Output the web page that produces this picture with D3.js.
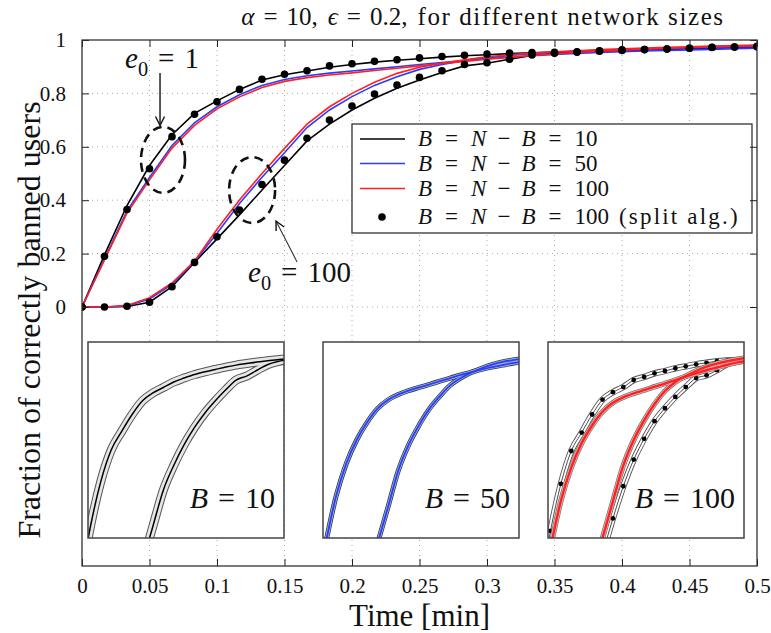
<!DOCTYPE html>
<html>
<head>
<meta charset="utf-8">
<script src="https://cdn.jsdelivr.net/npm/d3@7"></script>
<style>
  body { margin: 0; background: #fff; }
</style>
</head>
<body>
<div id="chart"></div>
<script>
// sample times in seconds (plotted in minutes)
const tSec = [0, 1, 2, 3, 4, 5, 6, 7, 8, 9, 10, 11, 12, 13, 14, 15, 16, 17, 18, 19, 20, 21, 22, 23, 24, 25, 26, 27, 28, 29, 30]

// e0 = 1
const b10E1 = [0, 0.195, 0.38, 0.53, 0.645, 0.725, 0.772, 0.815, 0.85, 0.87, 0.884, 0.898, 0.908, 0.917, 0.924, 0.93, 0.936, 0.941, 0.945, 0.949, 0.952, 0.955, 0.958, 0.96, 0.962, 0.964, 0.966, 0.968, 0.97, 0.972, 0.974]
const b50E1 = [0, 0.18, 0.36, 0.485, 0.605, 0.69, 0.75, 0.795, 0.83, 0.852, 0.866, 0.876, 0.884, 0.892, 0.9, 0.908, 0.916, 0.923, 0.93, 0.936, 0.941, 0.946, 0.95, 0.953, 0.956, 0.959, 0.961, 0.963, 0.965, 0.967, 0.969]
const b100E1 = [0, 0.176, 0.352, 0.476, 0.595, 0.68, 0.742, 0.787, 0.822, 0.845, 0.859, 0.869, 0.877, 0.886, 0.894, 0.903, 0.912, 0.92, 0.928, 0.935, 0.942, 0.948, 0.953, 0.958, 0.962, 0.966, 0.969, 0.972, 0.975, 0.977, 0.979]
const splitE1 = [0, 0.19, 0.365, 0.518, 0.638, 0.722, 0.769, 0.815, 0.853, 0.872, 0.885, 0.903, 0.911, 0.92, 0.926, 0.933, 0.938, 0.943, 0.947, 0.951, 0.953, 0.954, 0.956, 0.96, 0.963, 0.964, 0.966, 0.969, 0.973, 0.974, 0.975]

// e0 = 100
const b10E100 = [0, 0, 0.002, 0.018, 0.076, 0.167, 0.255, 0.345, 0.438, 0.53, 0.622, 0.685, 0.738, 0.782, 0.819, 0.85, 0.878, 0.903, 0.913, 0.928, 0.942, 0.95, 0.955, 0.958, 0.961, 0.964, 0.966, 0.968, 0.97, 0.972, 0.974]
const b50E100 = [0, 0, 0.004, 0.03, 0.085, 0.17, 0.276, 0.388, 0.486, 0.578, 0.672, 0.738, 0.788, 0.83, 0.862, 0.89, 0.908, 0.922, 0.933, 0.942, 0.949, 0.954, 0.958, 0.961, 0.964, 0.966, 0.968, 0.97, 0.972, 0.974, 0.975]
const b100E100 = [0, 0, 0.006, 0.035, 0.09, 0.172, 0.291, 0.401, 0.5, 0.594, 0.685, 0.75, 0.8, 0.842, 0.875, 0.898, 0.913, 0.926, 0.937, 0.945, 0.951, 0.956, 0.96, 0.964, 0.967, 0.97, 0.973, 0.975, 0.977, 0.979, 0.981]
const splitE100 = [0, 0, 0.003, 0.018, 0.076, 0.167, 0.263, 0.363, 0.459, 0.55, 0.632, 0.7, 0.753, 0.798, 0.831, 0.86, 0.885, 0.908, 0.915, 0.928, 0.944, 0.95, 0.954, 0.958, 0.961, 0.964, 0.966, 0.969, 0.972, 0.974, 0.976]

const xTicks = [0, 0.05, 0.1, 0.15, 0.2, 0.25, 0.3, 0.35, 0.4, 0.45, 0.5]
const yTicks = [0, 0.2, 0.4, 0.6, 0.8, 1]
const legendSizes = ["10", "50", "100", "100"]
const insetSizes = ["10", "50", "100"]
const insetT = [0.046, 0.36]
const insetV = [0.5, 1]

const width = 771, height = 633
const box = {left: 82, right: 757, top: 40, bottom: 566}
const serif = "Liberation Serif, Times New Roman, Times, serif"

const x = d3.scaleLinear().domain([0, 0.5]).range([box.left, box.right])
const y = d3.scaleLinear().domain([-0.97, 1]).range([box.bottom, box.top])

const blue = "#2b3bff", red = "#ff2020"

const svg = d3.select("#chart").append("svg")
  .attr("width", width)
  .attr("height", height)
  .style("font-family", serif)
  .style("display", "block")

const defs = svg.append("defs")
defs.append("clipPath").attr("id", "plot-clip")
  .append("rect")
    .attr("x", box.left).attr("y", box.top)
    .attr("width", box.right - box.left).attr("height", box.bottom - box.top)

defs.append("marker")
    .attr("id", "arrow")
    .attr("viewBox", "-12 -7 14 14")
    .attr("refX", 0).attr("refY", 0)
    .attr("markerWidth", 14).attr("markerHeight", 14)
    .attr("markerUnits", "userSpaceOnUse")
    .attr("orient", "auto")
  .append("path")
    .attr("d", "M-9,-4.5 L0,0 L-9,4.5")
    .attr("fill", "none")
    .attr("stroke", "#111")
    .attr("stroke-width", 1.4)

function mathText(parent, px, py, size, tokens, anchor = "start") {
  const text = parent.append("text")
    .attr("x", px).attr("y", py)
    .style("font-family", serif)
    .attr("font-size", size)
    .attr("text-anchor", anchor)
    .attr("fill", "#111")
  let shift = 0
  for (const tk of tokens) {
    const span = text.append("tspan").text(tk.s)
    const down = tk.sub ? size * 0.28 : 0
    if (down - shift) span.attr("dy", down - shift)
    shift = down
    if (tk.it) span.attr("font-style", "italic")
    if (tk.gap) span.attr("dx", tk.gap)
    if (tk.sub) span.attr("font-size", size * 0.7)
    if (tk.ls) span.attr("letter-spacing", tk.ls)
  }
  return text
}

// grid
const grid = svg.append("g")
  .attr("stroke", "#aaa")
  .attr("stroke-width", 1)
  .attr("stroke-dasharray", "1,4")
grid.selectAll(".vgrid")
  .data(xTicks.slice(1, -1))
  .join("line")
    .attr("class", "vgrid")
    .attr("x1", d => x(d)).attr("x2", d => x(d))
    .attr("y1", box.top).attr("y2", box.bottom)
grid.selectAll(".hgrid")
  .data(yTicks.slice(0, -1))
  .join("line")
    .attr("class", "hgrid")
    .attr("x1", box.left).attr("x2", box.right)
    .attr("y1", d => y(d)).attr("y2", d => y(d))

// main curves
const series = [
  {color: "#000", curves: [b10E1, b10E100]},
  {color: blue, curves: [b50E1, b50E100]},
  {color: red, curves: [b100E1, b100E100]},
]

const line = d3.line()
  .x((d, i) => x(tSec[i] / 60))
  .y(d => y(d))

const plot = svg.append("g").attr("clip-path", "url(#plot-clip)")
for (const s of series) {
  plot.append("g")
    .selectAll("path")
    .data(s.curves)
    .join("path")
      .attr("d", line)
      .attr("fill", "none")
      .attr("stroke", s.color)
      .attr("stroke-width", 1.6)
}

const dotRows = [splitE1, splitE100].flatMap(arr => arr.map((v, i) => ({t: tSec[i] / 60, v})))
plot.append("g")
  .selectAll("circle")
  .data(dotRows)
  .join("circle")
    .attr("cx", d => x(d.t))
    .attr("cy", d => y(d.v))
    .attr("r", 3.8)
    .attr("fill", "#000")

// annotations
const notes = svg.append("g")
mathText(notes, x(0.0319), y(0.895), 29, [
  {s: "e", it: true}, {s: "0", sub: true}, {s: "=", gap: 10}, {s: "1", gap: 10}])
notes.append("line")
  .attr("x1", x(0.0578)).attr("y1", y(0.876))
  .attr("x2", x(0.0578)).attr("y2", y(0.68))
  .attr("stroke", "#111").attr("stroke-width", 1.4)
  .attr("marker-end", "url(#arrow)")
notes.append("ellipse")
  .attr("cx", x(0.06)).attr("cy", y(0.551))
  .attr("rx", 22).attr("ry", 33)
  .attr("fill", "none").attr("stroke", "#111")
  .attr("stroke-width", 2.6).attr("stroke-dasharray", "9,6")

mathText(notes, x(0.123), y(0.094), 29, [
  {s: "e", it: true}, {s: "0", sub: true}, {s: "=", gap: 10}, {s: "100", gap: 10}])
notes.append("line")
  .attr("x1", x(0.1593)).attr("y1", y(0.169))
  .attr("x2", x(0.1437)).attr("y2", y(0.322))
  .attr("stroke", "#333").attr("stroke-width", 1.1)
  .attr("marker-end", "url(#arrow)")
notes.append("ellipse")
  .attr("cx", x(0.126)).attr("cy", y(0.438))
  .attr("rx", 23).attr("ry", 33)
  .attr("fill", "none").attr("stroke", "#111")
  .attr("stroke-width", 2.6).attr("stroke-dasharray", "9,6")

// legend
const legend = svg.append("g")
legend.append("rect")
  .attr("x", 352).attr("y", 124)
  .attr("width", 400).attr("height", 109)
  .attr("fill", "#fff").attr("stroke", "#333").attr("stroke-width", 1.3)

const legendRows = [139, 163.5, 188.5, 217]
const legendColors = ["#000", blue, red, null]
legendSizes.forEach((n, i) => {
  const ly = legendRows[i]
  if (legendColors[i]) {
    legend.append("line")
      .attr("x1", 360).attr("x2", 405)
      .attr("y1", ly).attr("y2", ly)
      .attr("stroke", legendColors[i]).attr("stroke-width", 1.6)
  } else {
    legend.append("circle").attr("cx", 382).attr("cy", ly).attr("r", 3.8).attr("fill", "#000")
  }
  const tokens = [
    {s: "B", it: true}, {s: "=", gap: 13}, {s: "N", it: true, gap: 13},
    {s: "−", gap: 11}, {s: "B", it: true, gap: 11}, {s: "=", gap: 13}, {s: n, gap: 13}]
  if (i == 3) tokens.push({s: "(split alg.)", gap: 10, ls: 2.2})
  mathText(legend, 418, ly + 7, 23, tokens)
})

// insets
const insetBoxes = [
  {x0: 88, layers: [
    {curves: [b10E1, b10E100], strokes: [["#555", 9], ["#e6e6e6", 7], ["#000", 1.5]]}]},
  {x0: 323, layers: [
    {curves: [b50E1, b50E100], strokes: [["#2d3a48", 5], ["#9fb4d8", 3.4], [blue, 1.8]]}]},
  {x0: 548, layers: [
    {curves: [splitE1, splitE100], strokes: [["#555", 6.4], ["#fff", 4.6], ["#000", 0.7]], dots: true},
    {curves: [b100E1, b100E100], strokes: [["#777", 5.4], ["#f4b8b8", 3.8], [red, 2.4]]}]},
]
const insetSize = 196, insetTop = 342

insetBoxes.forEach((ib, k) => {
  const ix = d3.scaleLinear().domain(insetT).range([ib.x0, ib.x0 + insetSize])
  const iy = d3.scaleLinear().domain(insetV).range([insetTop + insetSize, insetTop])
  const g = svg.append("g")

  defs.append("clipPath").attr("id", `inset-clip-${k}`)
    .append("rect")
      .attr("x", ib.x0).attr("y", insetTop)
      .attr("width", insetSize).attr("height", insetSize)

  g.append("rect")
    .attr("x", ib.x0).attr("y", insetTop)
    .attr("width", insetSize).attr("height", insetSize)
    .attr("fill", "#fff")

  const inner = g.append("g").attr("clip-path", `url(#inset-clip-${k})`)
  const iline = d3.line()
    .x((d, i) => ix(tSec[i] / 60))
    .y(d => iy(d))
    .curve(d3.curveMonotoneX)

  for (const layer of ib.layers) {
    for (const [color, w] of layer.strokes) {
      inner.append("g")
        .selectAll("path")
        .data(layer.curves)
        .join("path")
          .attr("d", iline)
          .attr("fill", "none")
          .attr("stroke", color)
          .attr("stroke-width", w)
          .attr("stroke-linejoin", "round")
    }
    if (layer.dots) {
      const rows = layer.curves.flatMap(arr => arr.map((v, i) => ({t: tSec[i] / 60, v})))
      inner.append("g")
        .selectAll("circle")
        .data(rows)
        .join("circle")
          .attr("cx", d => ix(d.t))
          .attr("cy", d => iy(d.v))
          .attr("r", 2.4)
          .attr("fill", "#000")
    }
  }

  g.append("rect")
    .attr("x", ib.x0).attr("y", insetTop)
    .attr("width", insetSize).attr("height", insetSize)
    .attr("fill", "none").attr("stroke", "#444").attr("stroke-width", 1.5)

  mathText(g, ib.x0 + insetSize - 9, 508, 30, [
    {s: "B", it: true}, {s: "=", gap: 10}, {s: insetSizes[k], gap: 10}], "end")
})

// axes
const styleAxis = g => {
  g.attr("font-family", null).attr("font-size", 21)
  g.select(".domain").remove()
  g.selectAll(".tick line").attr("stroke", "#222")
  g.selectAll(".tick text").attr("fill", "#111").style("font-family", serif)
}

svg.append("g")
  .attr("transform", `translate(0,${box.bottom})`)
  .call(d3.axisBottom(x).tickValues(xTicks).tickFormat(d => d).tickSize(-7).tickPadding(12))
  .call(styleAxis)

svg.append("g")
  .attr("transform", `translate(0,${box.top})`)
  .call(d3.axisTop(x).tickValues(xTicks).tickFormat("").tickSize(-7))
  .call(styleAxis)

svg.append("g")
  .attr("transform", `translate(${box.left},0)`)
  .call(d3.axisLeft(y).tickValues(yTicks).tickFormat(d => d).tickSize(-7).tickPadding(16))
  .call(styleAxis)

svg.append("g")
  .attr("transform", `translate(${box.right},0)`)
  .call(d3.axisRight(y).tickValues(yTicks).tickFormat("").tickSize(-7))
  .call(styleAxis)

svg.append("rect")
  .attr("x", box.left).attr("y", box.top)
  .attr("width", box.right - box.left).attr("height", box.bottom - box.top)
  .attr("fill", "none").attr("stroke", "#333").attr("stroke-width", 1.3)

// titles
mathText(svg, 483, 25, 25, [
  {s: "α", it: true}, {s: "=", gap: 9}, {s: "10,", gap: 9},
  {s: "ϵ", it: true, gap: 10}, {s: "=", gap: 9}, {s: "0.2,", gap: 9},
  {s: "for different network sizes", gap: 10, ls: 1.6}], "middle")

svg.append("text")
  .attr("transform", `translate(${(box.left + box.right) / 2},626)`)
  .attr("text-anchor", "middle")
  .style("font-family", serif)
  .attr("font-size", 31)
  .attr("fill", "#111")
  .text("Time [min]")

svg.append("text")
  .attr("transform", "translate(40,320) rotate(-90)")
  .attr("text-anchor", "middle")
  .style("font-family", serif)
  .attr("font-size", 32)
  .attr("fill", "#111")
  .text("Fraction of correctly banned users")
</script>
</body>
</html>
